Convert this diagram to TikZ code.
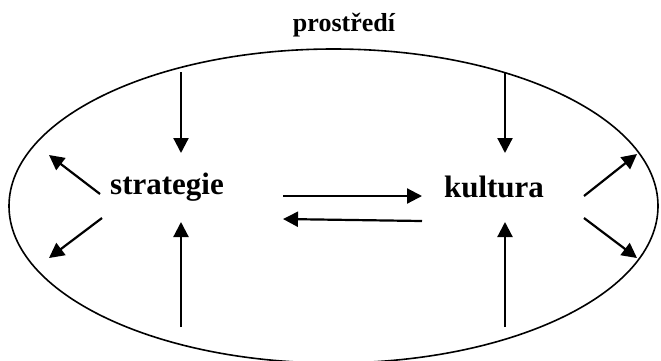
\documentclass[tikz,border=0pt]{standalone}
\usepackage{fontspec}
\setmainfont{Liberation Serif}
\usetikzlibrary{arrows.meta}

\tikzset{
    word/.style={font=\bfseries\fontsize{31}{36}\selectfont, inner sep=0pt},
    flow/.style={-{Triangle[length=15pt, width=15pt]}, line width=2.2pt}
}

\begin{document}
\begin{tikzpicture}[x=1pt, y=-1pt]
    \useasboundingbox (0, 0) rectangle (661, 360);

    % surrounding environment
    \draw [line width=1.6pt] (333.5, 206) ellipse [x radius=324.5pt, y radius=157pt];
    \node (Env) at (344, 25) [word, font=\bfseries\fontsize{26}{30}\selectfont] {prostředí};

    \node (Strat) at (167, 187) [word] {strategie};
    \node (Kult) at (494, 187) [word] {kultura};

    % end points of the arrows
    \coordinate (S1) at (181, 72);   \coordinate (S2) at (181, 153);
    \coordinate (S3) at (181, 327);  \coordinate (S4) at (181, 222);
    \coordinate (K1) at (505, 72);   \coordinate (K2) at (505, 153);
    \coordinate (K3) at (505, 327);  \coordinate (K4) at (505, 222);
    \coordinate (H1) at (283, 196);  \coordinate (H2) at (422, 196);
    \coordinate (H3) at (422, 221);  \coordinate (H4) at (283, 219);
    \coordinate (L1) at (100, 194);  \coordinate (L2) at (49, 155);
    \coordinate (L3) at (102, 218);  \coordinate (L4) at (49, 258);
    \coordinate (R1) at (584, 196);  \coordinate (R2) at (637, 154);
    \coordinate (R3) at (584, 218);  \coordinate (R4) at (637, 258);

    \draw [flow] (S1) -- (S2);
    \draw [flow] (S3) -- (S4);
    \draw [flow] (K1) -- (K2);
    \draw [flow] (K3) -- (K4);
    \draw [flow] (H1) -- (H2);
    \draw [flow] (H3) -- (H4);
    \draw [flow] (L1) -- (L2);
    \draw [flow] (L3) -- (L4);
    \draw [flow] (R1) -- (R2);
    \draw [flow] (R3) -- (R4);
\end{tikzpicture}
\end{document}
